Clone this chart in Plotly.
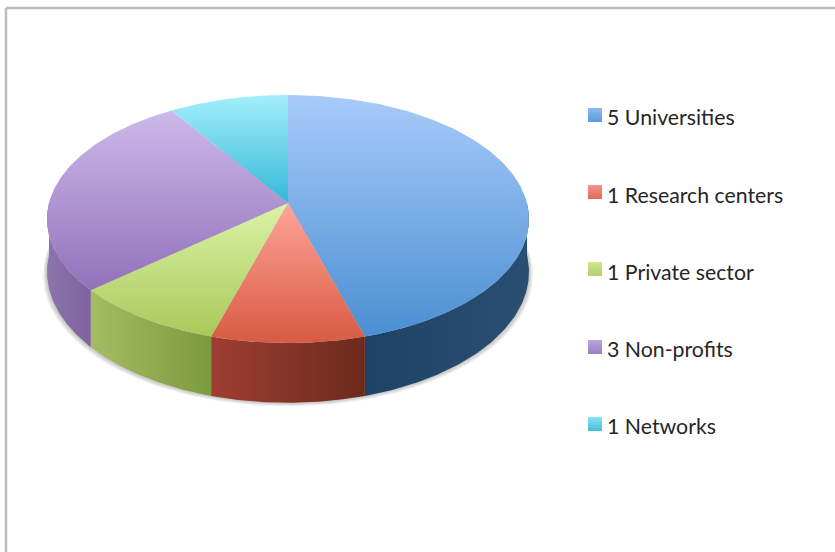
import numpy as np
import plotly.graph_objects as go

labels = ["5 Universities", "1 Research centers", "1 Private sector", "3 Non-profits", "1 Networks"]
values = [5, 1, 1, 3, 1]
top_light = ["#A8CBFA", "#FFA499", "#DAF3A6", "#CDB9EA", "#A4EEFB"]
top_dark = ["#4A8FD2", "#D85A42", "#A9C95A", "#9271BA", "#35B9D8"]
wall_left = ["#1E4266", "#9F3D32", "#A6BC64", "#8C74AC", "#2C8DA5"]
wall_right = ["#2B4F73", "#6C2A1D", "#7B9A3F", "#7F639F", "#2C8DA5"]
key_light = ["#8DBAF0", "#F59488", "#CDE78F", "#BBA5DC", "#8BE2F4"]
key_dark = ["#5B9BDC", "#E0685A", "#B2D06C", "#9A7FC2", "#43BEDC"]

CX, CY = 288, 203      # pixel position of the pie apex
A, B, K = 239, 122, 0.129
DEPTH = 52
legend_x, legend_key_y, legend_text_y = 595, [115, 192, 269, 347, 424], [119.5, 197.5, 274.5, 351.5, 428.5]


def rim(theta):
    X, Y = np.sin(theta), np.cos(theta)
    d = 1 + K * Y
    return CX + A * X / d, CY - B * Y / d, DEPTH / d


fig = go.Figure()

# soft drop shadow
full = np.linspace(0, 2 * np.pi, 240)
sx, sy, sd = rim(full)
for e in [4, 3, 2, 1]:
    fig.add_trace(go.Scatter(
        x=CX + (sx - CX) * (1 + e / 241), y=sy + sd + e * 0.9, mode="lines", fill="toself",
        fillcolor="rgba(90,90,90,0.09)", line=dict(width=0), hoverinfo="skip"))

fracs = np.cumsum([0] + values) / sum(values) * 2 * np.pi

# side walls: only the front arc of the rim can be seen
for i in range(len(values)):
    a0, a1 = max(fracs[i], np.pi / 2), min(fracs[i + 1], 3 * np.pi / 2)
    if a1 <= a0:
        continue
    t = np.linspace(a0, a1, 90)
    x, y, d = rim(t)
    px = np.r_[x, x[::-1], x[0]]
    py = np.r_[y, (y + d)[::-1], y[0]]
    fig.add_trace(go.Scatter(
        x=px, y=py, mode="lines", fill="toself", line=dict(width=0), hoverinfo="skip",
        fillgradient=dict(type="horizontal", start=float(x.min()), stop=float(x.max()),
                          colorscale=[[0, wall_left[i]], [1, wall_right[i]]])))

# top faces
for i in range(len(values)):
    t = np.linspace(fracs[i], fracs[i + 1], 160)
    x, y, _ = rim(t)
    px = np.r_[CX, x, CX]
    py = np.r_[CY, y, CY]
    fig.add_trace(go.Scatter(
        x=px, y=py, mode="lines", fill="toself", line=dict(width=0), hoverinfo="skip",
        fillgradient=dict(type="vertical", start=float(py.min()), stop=float(py.max()),
                          colorscale=[[0, top_light[i]], [1, top_dark[i]]])))

# legend
for i, lab in enumerate(labels):
    fig.add_trace(go.Scatter(
        x=[legend_x], y=[legend_key_y[i]], mode="markers", hoverinfo="skip",
        marker=dict(symbol="square", size=14, color=key_light[i], line=dict(width=0),
                    gradient=dict(type="vertical", color=key_dark[i]))))
    fig.add_trace(go.Scatter(
        x=[legend_x + 12], y=[legend_text_y[i]], mode="text", text=[lab], textposition="middle right",
        textfont=dict(family="Lato", size=21.3, color="#262626"), hoverinfo="skip"))

fig.update_layout(
    width=835, height=552, margin=dict(l=0, r=0, t=0, b=0), autosize=False,
    paper_bgcolor="#FFFFFF", plot_bgcolor="#FFFFFF", showlegend=False,
    xaxis=dict(range=[0, 835], visible=False, fixedrange=True),
    yaxis=dict(range=[552, 0], visible=False, fixedrange=True),
    shapes=[
        dict(type="line", x0=6, x1=835, y0=8, y1=8, line=dict(color="#BCBCBC", width=2.5)),
        dict(type="line", x0=6, x1=6, y0=8, y1=552, line=dict(color="#BCBCBC", width=2.5)),
    ],
)
fig.write_html("out.html", config={"displayModeBar": False},
               post_script="document.body.style.margin='0';document.body.style.overflow='hidden';")
